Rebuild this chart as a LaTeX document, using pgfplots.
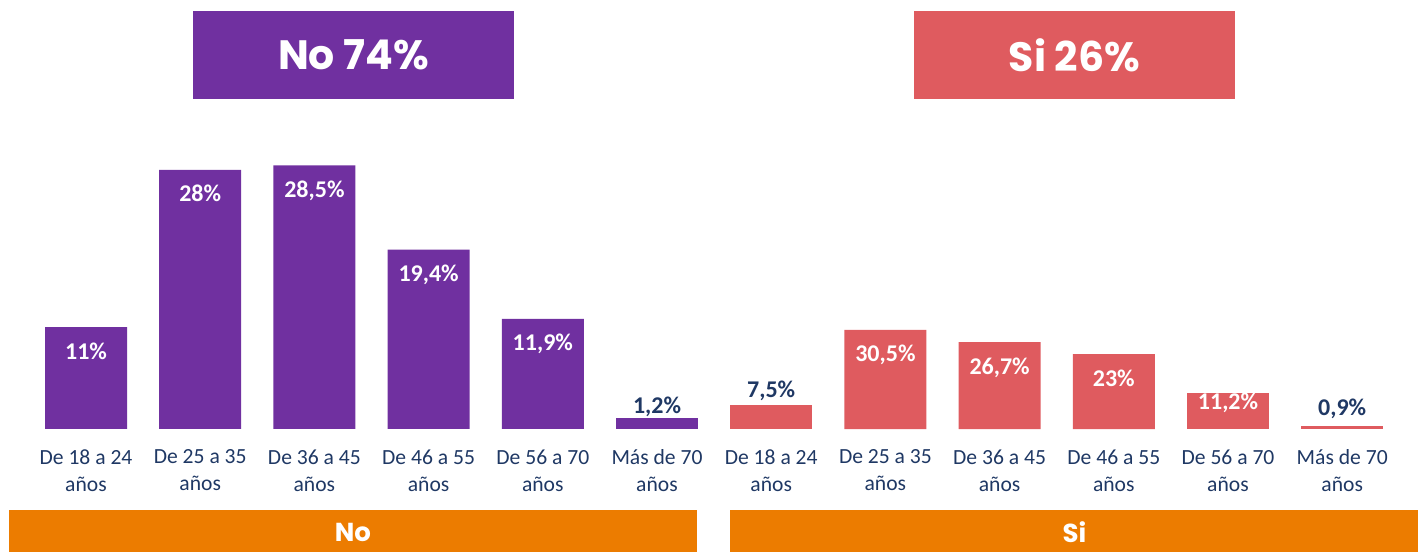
\documentclass[border=0pt]{standalone}
\usepackage{fontspec}
\setmainfont{Carlito}
\newfontfamily\titlefont{Poppins}
\usepackage{pgfplots}
\pgfplotsset{compat=1.18}

\definecolor{morado}{HTML}{7030A0}
\definecolor{rojo}{HTML}{DF5B5F}
\definecolor{naranja}{HTML}{EC7C00}
\definecolor{azul}{HTML}{1F3864}

\pgfplotsset{
  grupo/.style={
    at={(0pt,0pt)}, anchor=south west,
    scale only axis, width=712.5pt, height=276pt,
    xmin=-0.7531, xmax=11.7250,
    ybar,
    every axis plot/.append style={bar shift=0pt, bar width=41pt, draw=none},
    axis line style={draw=none}, tick style={draw=none}, ytick=\empty,
    xticklabel style={align=center, text=azul, font=\fontsize{10.8}{13.5}\selectfont,
      anchor=north, inner sep=0pt, yshift=55.5pt},
    point meta=explicit symbolic,
    nodes near coords,
    every node near coord/.append style={font=\fontsize{12}{14}\selectfont\bfseries,
      anchor=base, inner sep=0pt},
    clip=false,
  },
  dentro/.style={every node near coord/.append style={text=white, yshift=#1}},
  fuera/.style={every node near coord/.append style={text=azul, yshift=#1}},
}

\begin{document}
\begin{tikzpicture}
\useasboundingbox (0,0) rectangle (712.5pt,276pt);

% grupo "No" (alturas proporcionales al 74%)
\begin{axis}[grupo, ymin=-13.297, ymax=46.378, xtick={0,...,5},
  xticklabels={{De 18 a 24\\años},{De 25 a 35\\años},{De 36 a 45\\años},
    {De 46 a 55\\años},{De 56 a 70\\años},{Más de 70\\años}}]
  \addplot[fill=morado, dentro=-16pt] coordinates {(0,11) [11\%] (1,28) [28\%] (2,28.5) [28,5\%] (3,19.4) [19,4\%] (4,11.9) [11,9\%]};
  \addplot[fill=morado, fuera=2pt] coordinates {(5,1.2) [1,2\%]};
\end{axis}

% grupo "Si" (alturas proporcionales al 26%)
\begin{axis}[grupo, ymin=-37.846, ymax=132.0, xtick={6,...,11},
  xticklabels={{De 18 a 24\\años},{De 25 a 35\\años},{De 36 a 45\\años},
    {De 46 a 55\\años},{De 56 a 70\\años},{Más de 70\\años}}]
  \addplot[fill=rojo, dentro=-16pt] coordinates {(7,30.5) [30,5\%] (8,26.7) [26,7\%] (9,23) [23\%]};
  \addplot[fill=rojo, dentro=-8.5pt] coordinates {(10,11.2) [11,2\%]};
  \addplot[fill=rojo, fuera=3.5pt] coordinates {(6,7.5) [7,5\%]};
  \addplot[fill=rojo, fuera=5.5pt] coordinates {(11,0.9) [0,9\%]};
\end{axis}

\begin{scope}[x=0.5pt, y=-0.5pt, shift={(0pt,276pt)}]
  \fill[morado] (193,11) rectangle (514,99);
  \node[text=white, font=\titlefont\fontsize{20.5}{24}\selectfont\bfseries] at (353.5,55) {No 74\%};
  \fill[rojo] (914,11) rectangle (1235,99);
  \node[text=white, font=\titlefont\fontsize{20.5}{24}\selectfont\bfseries] at (1074.5,55) {Si 26\%};
  \fill[naranja] (9,510) rectangle (697,552);
  \node[text=white, font=\titlefont\fontsize{13}{15}\selectfont\bfseries] at (353,532) {No};
  \fill[naranja] (730,510) rectangle (1418,552);
  \node[text=white, font=\titlefont\fontsize{13}{15}\selectfont\bfseries] at (1074.5,532) {Si};
\end{scope}
\end{tikzpicture}
\end{document}
